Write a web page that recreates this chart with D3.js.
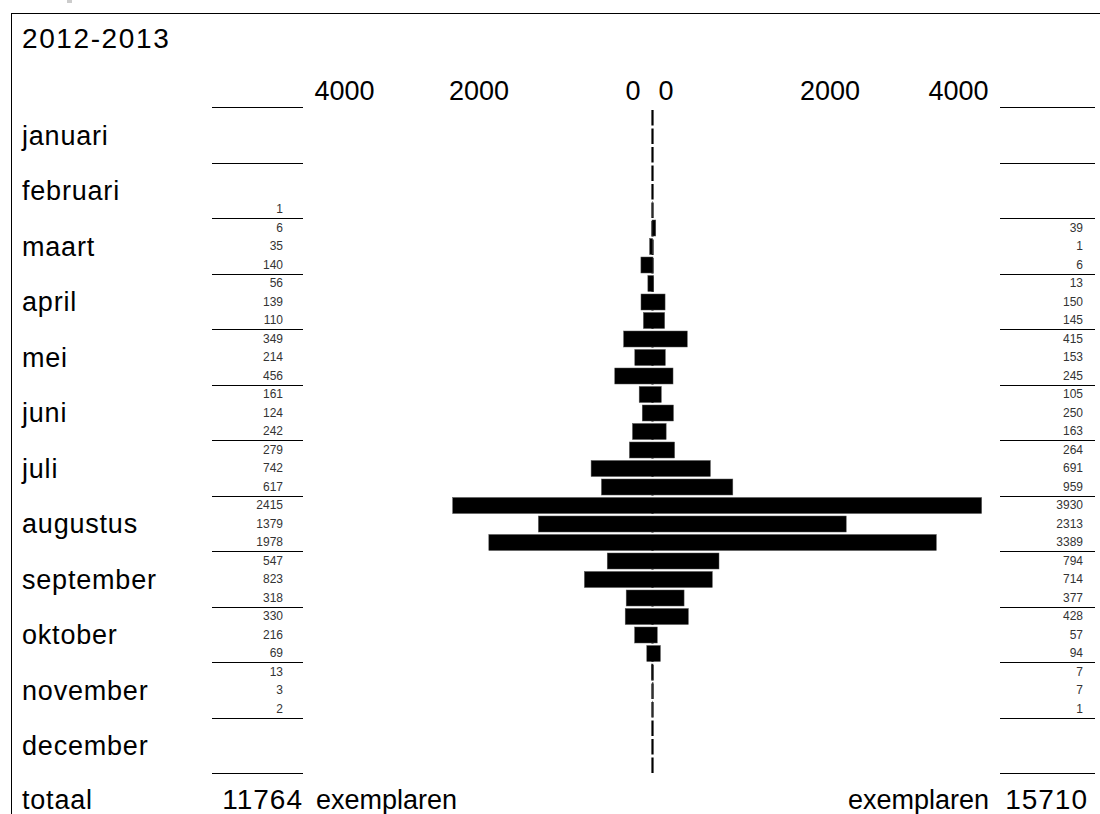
<!DOCTYPE html>
<html>
<head>
<meta charset="utf-8">
<script src="https://cdn.jsdelivr.net/npm/d3@7"></script>
<style>
  html, body { margin: 0; padding: 0; background: #fff; }
  svg { display: block; font-family: "Liberation Sans", Arial, sans-serif; }
</style>
</head>
<body>
<svg id="chart" width="1100" height="814"></svg>
<script>
// ---- data ----
const title = "2012-2013";
const months = ["januari","februari","maart","april","mei","juni","juli","augustus","september","oktober","november","december"];
const totalLabel = "totaal";
const unitLabel = "exemplaren";
// three decades (10-day periods) per month; null = no value
const leftValues = [
  [null, null, null],
  [null, null, 1],
  [6, 35, 140],
  [56, 139, 110],
  [349, 214, 456],
  [161, 124, 242],
  [279, 742, 617],
  [2415, 1379, 1978],
  [547, 823, 318],
  [330, 216, 69],
  [13, 3, 2],
  [null, null, null]
];
const rightValues = [
  [null, null, null],
  [null, null, null],
  [39, 1, 6],
  [13, 150, 145],
  [415, 153, 245],
  [105, 250, 163],
  [264, 691, 959],
  [3930, 2313, 3389],
  [794, 714, 377],
  [428, 57, 94],
  [7, 7, 1],
  [null, null, null]
];
const tickValues = [4000, 2000, 0];

// ---- layout ----
const svg = d3.select("#chart");
const centerX = 652.5;
const xLeft = d3.scaleLinear().domain([0, 4000]).range([centerX, centerX - 331]);
const xRight = d3.scaleLinear().domain([0, 4000]).range([centerX, centerX + 335]);

const rows = months.concat([totalLabel]);
const y = d3.scaleBand().domain(rows).range([107, 107 + 55.5 * rows.length]);
const yDec = d3.scaleBand().domain([0, 1, 2]).range([0, y.bandwidth()]);

// frame
svg.append("rect").attr("x", 11.5).attr("y", 13.5).attr("width", 1200).attr("height", 900)
  .attr("fill", "none").attr("stroke", "#000").attr("stroke-width", 1);
svg.append("rect").attr("x", 67).attr("y", 0).attr("width", 5).attr("height", 3).attr("fill", "#ccc");

// title
svg.append("text").attr("x", 22).attr("y", 48).attr("font-size", 28).attr("letter-spacing", 1.6)
  .text(title);

// tick labels
const tickFont = 27;
const leftTicks = svg.append("g");
tickValues.forEach(v => {
  const off = v === 4000 ? 53 : v === 2000 ? 22 : -12;
  leftTicks.append("text").attr("x", xLeft(v) + off).attr("y", 100)
    .attr("text-anchor", "end").attr("font-size", tickFont).text(d3.format("d")(v));
});
const rightTicks = svg.append("g");
tickValues.forEach(v => {
  const off = v === 4000 ? 1 : v === 2000 ? 40 : 21;
  rightTicks.append("text").attr("x", xRight(v) + off).attr("y", 100)
    .attr("text-anchor", "end").attr("font-size", tickFont).text(d3.format("d")(v));
});

// separator lines (top of each row band + bottom of december)
const lineYs = rows.map(r => y(r));
svg.append("g").selectAll("line.l").data(lineYs).join("line")
  .attr("x1", 212).attr("x2", 303).attr("y1", d => Math.round(d) + 0.5).attr("y2", d => Math.round(d) + 0.5)
  .attr("stroke", "#000").attr("stroke-width", 1);
svg.append("g").selectAll("line.r").data(lineYs).join("line")
  .attr("x1", 1000).attr("x2", 1095).attr("y1", d => Math.round(d) + 0.5).attr("y2", d => Math.round(d) + 0.5)
  .attr("stroke", "#000").attr("stroke-width", 1);

// month labels
svg.append("g").selectAll("text").data(rows).join("text")
  .attr("x", 22).attr("y", d => y(d) + y.bandwidth() / 2 + (d === totalLabel ? 8 : 10))
  .attr("font-size", 27).attr("letter-spacing", 0.8)
  .text(d => d);

// flatten decades
const decades = [];
months.forEach((m, i) => {
  for (let k = 0; k < 3; k++) {
    decades.push({ month: m, k: k, left: leftValues[i][k], right: rightValues[i][k] });
  }
});

// center dashed line
svg.append("line")
  .attr("x1", centerX).attr("x2", centerX)
  .attr("y1", y(months[0]) + 3).attr("y2", y(months[months.length - 1]) + y.bandwidth())
  .attr("stroke", "#000").attr("stroke-width", 2.2)
  .attr("stroke-dasharray", "15.5,3");

// bars
const barH = 16;
const bars = svg.append("g");
decades.forEach(d => {
  const top = y(d.month) + yDec(d.k) + 2;
  const l = d.left || 0, r = d.right || 0;
  if (l + r === 0) return;
  bars.append("rect")
    .attr("x", xLeft(l)).attr("y", top)
    .attr("width", xRight(r) - xLeft(l)).attr("height", barH)
    .attr("fill", "#000").attr("stroke", "#555").attr("stroke-width", 0.5);
});

// small value labels
const smallFont = 12;
svg.append("g").selectAll("text").data(decades.filter(d => d.left != null)).join("text")
  .attr("x", 283).attr("y", d => y(d.month) + yDec(d.k) + yDec.bandwidth() / 2 + 4.5)
  .attr("text-anchor", "end").attr("font-size", smallFont).attr("fill", "#333")
  .text(d => d.left);
svg.append("g").selectAll("text").data(decades.filter(d => d.right != null)).join("text")
  .attr("x", 1083).attr("y", d => y(d.month) + yDec(d.k) + yDec.bandwidth() / 2 + 4.5)
  .attr("text-anchor", "end").attr("font-size", smallFont).attr("fill", "#333")
  .text(d => d.right);

// totals
const leftTotal = d3.sum(leftValues.flat());
const rightTotal = d3.sum(rightValues.flat());
const totY = y(totalLabel) + y.bandwidth() / 2 + 8;
svg.append("text").attr("x", 303).attr("y", totY).attr("text-anchor", "end")
  .attr("font-size", 28).attr("letter-spacing", 1).text(leftTotal);
svg.append("text").attr("x", 316).attr("y", totY)
  .attr("font-size", 27).text(unitLabel);
svg.append("text").attr("x", 989).attr("y", totY).attr("text-anchor", "end")
  .attr("font-size", 27).text(unitLabel);
svg.append("text").attr("x", 1088).attr("y", totY).attr("text-anchor", "end")
  .attr("font-size", 28).attr("letter-spacing", 1).text(rightTotal);
</script>
</body>
</html>
